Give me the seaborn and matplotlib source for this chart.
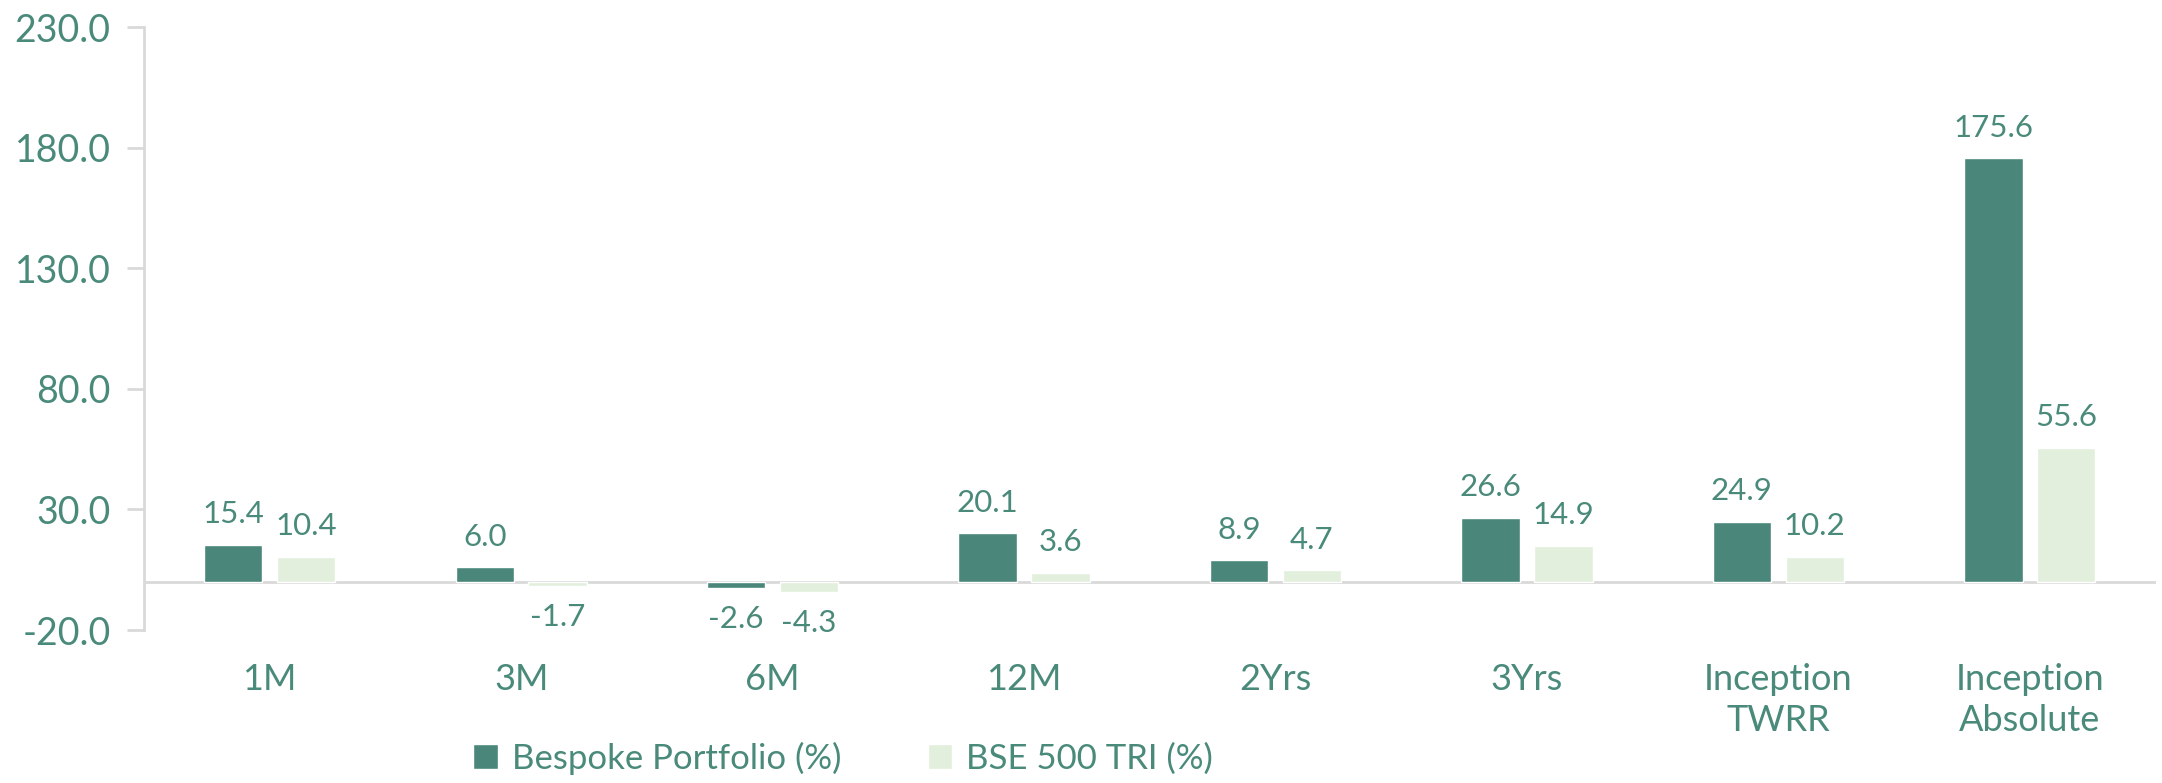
import matplotlib
matplotlib.use("Agg")
import matplotlib.pyplot as plt
import seaborn as sns
import pandas as pd

# data
periods = ["1M", "3M", "6M", "12M", "2Yrs", "3Yrs", "Inception\nTWRR", "Inception\nAbsolute"]
bespoke = [15.4, 6.0, -2.6, 20.1, 8.9, 26.6, 24.9, 175.6]
bse500 = [10.4, -1.7, -4.3, 3.6, 4.7, 14.9, 10.2, 55.6]
series_names = ["Bespoke Portfolio (%)", "BSE 500 TRI (%)"]
y_ticks = [-20, 30, 80, 130, 180, 230]

dark = "#4a877a"
light = "#e2efdc"
txt = "#4a8a7a"
grey = "#d9d9d9"

df = pd.DataFrame({
    "period": periods * 2,
    "value": bespoke + bse500,
    "series": [series_names[0]] * len(periods) + [series_names[1]] * len(periods),
})

sns.set_style("white")
plt.rcParams["font.family"] = ["Lato", "DejaVu Sans"]

fig = plt.figure(figsize=(21.62, 7.83), dpi=100)
ax = fig.add_axes([0.0666, 0.1954, 0.9304, 0.7701])

sns.barplot(data=df, x="period", y="value", hue="series", order=periods,
            hue_order=series_names, palette=[dark, light], width=0.58, gap=0.2,
            saturation=1, errorbar=None, ax=ax)

for cont in ax.containers:
    ax.bar_label(cont, fmt="%.1f", padding=12, fontsize=22.5, color=txt)

ax.set_ylim(y_ticks[0], y_ticks[-1])
ax.set_xlim(-0.5, len(periods) - 0.5)
ax.set_yticks(y_ticks)
ax.set_yticklabels([f"{t:.1f}" for t in y_ticks])
ax.axhline(0, color=grey, lw=2, zorder=0)

for s in ["top", "right", "bottom"]:
    ax.spines[s].set_visible(False)
ax.spines["left"].set_color(grey)
ax.spines["left"].set_linewidth(2)

ax.tick_params(axis="y", colors=grey, labelcolor=txt, labelsize=27, length=12, width=2, pad=12, left=True)
ax.tick_params(axis="x", length=0, labelcolor=txt, labelsize=26, pad=24)
for lab in ax.get_xticklabels():
    lab.set_linespacing(1.3)
ax.set_xlabel("")
ax.set_ylabel("")

ax.legend(loc="center", bbox_to_anchor=(0.39, 0.032), bbox_transform=fig.transFigure,
          ncol=2, frameon=False, fontsize=25, labelcolor=txt, handlelength=0.7,
          handleheight=0.7, handletextpad=0.4, columnspacing=2.5)

fig.savefig("out.png", dpi=100)
